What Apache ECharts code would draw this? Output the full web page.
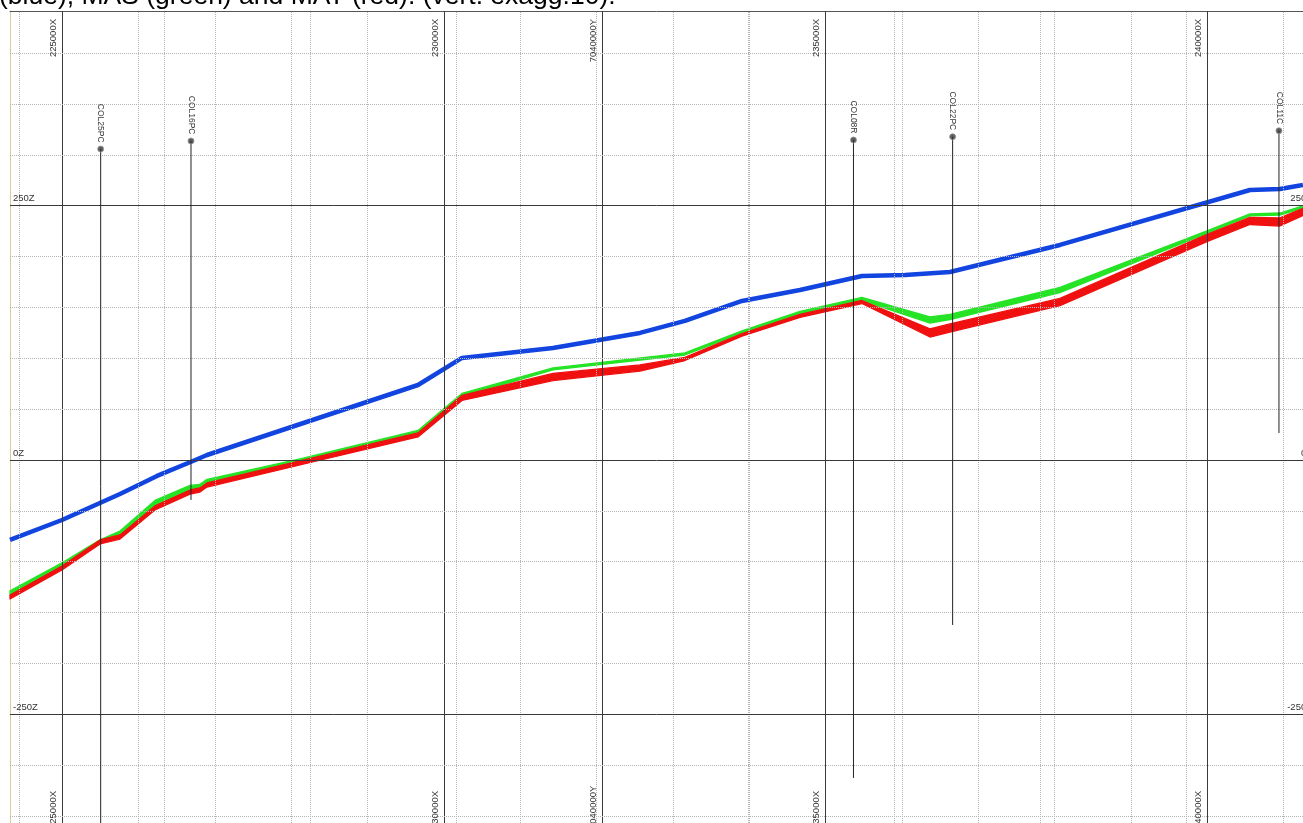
<!DOCTYPE html>
<html>
<head>
<meta charset="utf-8">
<script src="https://cdn.jsdelivr.net/npm/echarts@6/dist/echarts.min.js"></script>
<style>
html, body { margin: 0; padding: 0; background: #ffffff; }
#chart { width: 1303px; height: 823px; }
</style>
</head>
<body>
<div id="chart"></div>
<script>
// Cross-section: topographic surface, MAS and MAT horizons along the section line.
const TITLE = '(blue), MAS (green) and MAT (red). (vert. exagg.10).';

// Grid values (easting X, northing Y, elevation Z)
const EAST_GRID = [225000, 226000, 227000, 228000, 229000, 230000, 231000, 232000, 233000,
                   234000, 235000, 236000, 237000, 238000, 239000, 240000, 241000];
const EAST_MAJOR = [225000, 230000, 235000, 240000];
const NORTH_GRID = [7036000, 7037000, 7038000, 7039000, 7040000, 7041000, 7042000, 7043000, 7044000];
const NORTH_MAJOR = [7040000];
const Z_GRID = [-350, -300, -250, -200, -150, -100, -50, 0, 50, 100, 150, 200, 250, 300, 350, 400];
const Z_MAJOR = [-250, 0, 250];

// Section extent
const EAST_RANGE = [224315, 241254];
const NORTH_RANGE = [7035940, 7044797];
const Z_RANGE = [-356.9, 441.4];

// Topographic surface: [easting, elevation]
const SURFACE = [
  [224315, -78.6], [224996, -59.0], [225756, -33.4], [226241, -15.7], [226712, -1.0],
  [226896, 4.9], [229660, 73.7], [230236, 100.3], [231428, 110.1], [232568, 124.9],
  [233157, 136.7], [233904, 156.3], [234664, 167.1], [235476, 180.9], [236039, 181.9],
  [236629, 184.8], [238070, 211.4], [240559, 265.4], [240952, 266.4], [241253, 270.3]
];
// Horizons as thin layers: [easting, top elevation, base elevation]
const MAS = [
  [224315, -128.7, -132.7], [224996, -101.2, -105.2], [225494, -78.6, -82.6], [225756, -69.8, -73.8],
  [226214, -39.8, -44.8], [226673, -25.0, -30.0], [226804, -24.0, -29.0], [226896, -19.1, -24.1],
  [228114, 1.0, -3.0], [229660, 29.0, 26.0], [230236, 65.4, 62.4], [231428, 90.5, 88.5],
  [233157, 105.2, 103.2], [233904, 127.0, 124.5], [234664, 146.0, 143.0], [235476, 159.8, 156.8],
  [236367, 140.6, 134.6], [236629, 143.1, 138.1], [238070, 169.6, 164.6], [239996, 225.3, 222.8],
  [240559, 241.9, 239.9], [240952, 242.8, 240.8], [241253, 249.7, 247.7]
];
const MAT = [
  [224315, -132.7, -136.7], [224996, -104.2, -108.2], [225494, -78.6, -82.6], [225756, -73.7, -77.7],
  [226214, -45.2, -49.2], [226673, -29.5, -33.5], [226804, -27.5, -31.5], [226896, -22.6, -26.6],
  [228114, -0.9, -4.9], [229660, 26.6, 22.6], [230236, 63.5, 58.5], [231428, 85.1, 78.1],
  [232568, 93.4, 87.4], [233157, 100.8, 97.8], [233904, 124.2, 121.7], [234664, 143.1, 140.1],
  [235476, 156.8, 153.8], [236367, 128.9, 120.9], [236629, 133.8, 125.8], [238070, 158.8, 151.8],
  [239996, 221.7, 214.7], [240559, 238.5, 231.5], [240952, 238.0, 230.0], [241253, 247.3, 240.3]
];

// Drill holes: name, easting, collar elevation, end-of-hole elevation
const WELL_NAMES = ['COL25PC', 'COL16PC', 'COL08R', 'COL22PC', 'COL11C'];
const WELL_EAST = [225503, 226686, 235365, 236664, 240939];
const WELL_TOP = [305.7, 313.6, 314.6, 317.8, 323.7];
const WELL_BOTTOM = [-380, -39.3, -312.6, -162.2, 26.5];

const FONT = 'Liberation Sans, Arial, sans-serif';
const MINOR = { color: '#b4b4b4', type: 'dotted', width: 1 };
const MAJOR = { color: '#3a3a3a', type: 'solid', width: 1 };
const HIDDEN = { color: 'rgba(0,0,0,0)', width: 0 };
const TICK_LABEL = { fontFamily: FONT, fontSize: 9.5, color: '#333' };

function vLines(values, majors, suffix) {
  const out = [];
  values.forEach(v => {
    if (!majors.includes(v)) out.push({ xAxis: v, lineStyle: MINOR, label: { show: false } });
  });
  majors.forEach(v => {
    const txt = v + suffix;
    out.push({ xAxis: v, lineStyle: MAJOR,
      label: Object.assign({ show: true, position: 'insideEndTop', distance: [8, 4], formatter: txt }, TICK_LABEL) });
    out.push({ xAxis: v, lineStyle: HIDDEN,
      label: Object.assign({ show: true, position: 'insideStartTop', distance: [-6, 4], formatter: txt }, TICK_LABEL) });
  });
  return out;
}

function hLines(values, majors, suffix) {
  const out = [];
  values.forEach(v => {
    if (!majors.includes(v)) out.push({ yAxis: v, lineStyle: MINOR, label: { show: false } });
  });
  majors.forEach(v => {
    const txt = v + suffix;
    out.push({ yAxis: v, lineStyle: MAJOR,
      label: Object.assign({ show: true, position: 'insideStartTop', distance: [3, 2], formatter: txt }, TICK_LABEL) });
    out.push({ yAxis: v, lineStyle: HIDDEN,
      label: Object.assign({ show: true, position: 'insideEndTop', distance: [-9, 2], formatter: txt }, TICK_LABEL) });
  });
  return out;
}

const gridMarkSeries = (name, xIdx, data) => ({
  name, type: 'line', xAxisIndex: xIdx, data: [], silent: true, z: 1,
  markLine: { silent: true, symbol: ['none', 'none'], animation: false, precision: 4, data }
});

// A horizon drawn as a filled band between its top and base traces
function layerSeries(name, rows, color, z) {
  return {
    name, type: 'custom', z, silent: true,
    data: [[rows[0][0], rows[0][1]]],
    encode: { x: 0, y: 1 },
    renderItem: (params, api) => {
      const upper = rows.map(r => api.coord([r[0], r[1]]));
      const lower = rows.slice().reverse().map(r => api.coord([r[0], r[2]]));
      return {
        type: 'polygon',
        shape: { points: upper.concat(lower) },
        style: { fill: color, stroke: color, lineWidth: 1.3, lineJoin: 'round' }
      };
    }
  };
}

const wellSeries = WELL_NAMES.map((n, i) => ({
  name: n, type: 'line', xAxisIndex: 0, z: 5, silent: true, symbol: 'none',
  lineStyle: { color: '#222', width: 1 },
  data: [[WELL_EAST[i], WELL_TOP[i]], [WELL_EAST[i], WELL_BOTTOM[i]]]
}));

const option = {
  animation: false,
  backgroundColor: '#ffffff',
  title: {
    text: TITLE, left: -1, top: -17, padding: 0,
    textStyle: { fontFamily: FONT, fontSize: 26.5, fontWeight: 'normal', color: '#000' }
  },
  grid: { left: 10, right: 0, top: 11, bottom: 0, containLabel: false },
  xAxis: [
    { type: 'value', position: 'top', min: EAST_RANGE[0], max: EAST_RANGE[1],
      axisLine: { show: true, onZero: false, lineStyle: { color: '#555', width: 1 } },
      axisTick: { show: false }, axisLabel: { show: false }, splitLine: { show: false } },
    { type: 'value', show: false, min: NORTH_RANGE[0], max: NORTH_RANGE[1], splitLine: { show: false } }
  ],
  yAxis: {
    type: 'value', min: Z_RANGE[0], max: Z_RANGE[1],
    axisLine: { show: true, onZero: false, lineStyle: { color: '#d9cc9c', width: 1 } },
    axisTick: { show: false }, axisLabel: { show: false }, splitLine: { show: false }
  },
  series: [
    gridMarkSeries('northGrid', 1, vLines(NORTH_GRID, NORTH_MAJOR, 'Y')),
    gridMarkSeries('eastGrid', 0, vLines(EAST_GRID, EAST_MAJOR, 'X')),
    gridMarkSeries('zGrid', 0, hLines(Z_GRID, Z_MAJOR, 'Z')),
    { name: 'Surface', type: 'line', data: SURFACE, symbol: 'none', z: 3,
      lineStyle: { color: '#1245e0', width: 4.5 } },
    layerSeries('MAS', MAS, '#25e325', 3),
    layerSeries('MAT', MAT, '#f01010', 4),
    ...wellSeries,
    { name: 'collars', type: 'scatter', z: 6, silent: true,
      data: WELL_NAMES.map((n, i) => ({ name: n, value: [WELL_EAST[i], WELL_TOP[i]] })),
      symbol: 'circle', symbolSize: 6,
      itemStyle: { color: '#333', borderColor: '#999', borderWidth: 1 },
      label: { show: true, position: 'top', distance: 3, rotate: -90, align: 'right', verticalAlign: 'middle',
        formatter: p => p.name, fontFamily: FONT, fontSize: 8.5, color: '#000' } }
  ]
};

const chart = echarts.init(document.getElementById('chart'), null, { renderer: 'canvas' });
chart.setOption(option);
</script>
</body>
</html>
